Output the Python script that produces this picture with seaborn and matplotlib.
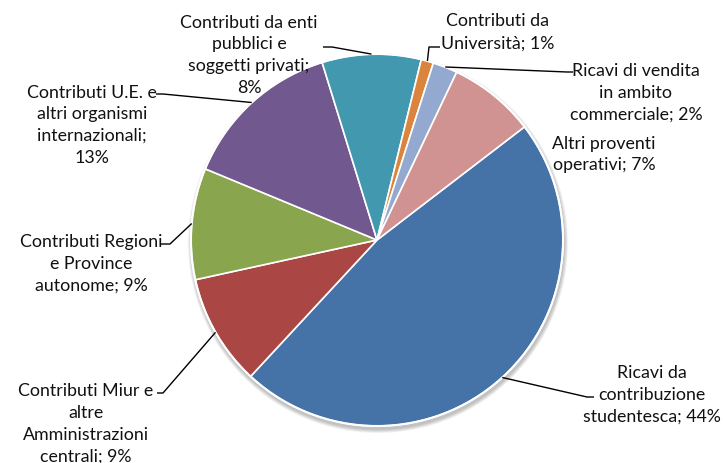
import numpy as np
import matplotlib
matplotlib.use('Agg')
import matplotlib.pyplot as plt
from matplotlib.patches import Circle
import seaborn as sns

sns.set_theme(style="white")
plt.rcParams['font.family'] = ['Lato', 'DejaVu Sans']

# --- Data (clockwise from the large blue slice) ---
names = [
    'Ricavi da\ncontribuzione\nstudentesca',
    'Contributi Miur e\naltre\nAmministrazioni\ncentrali',
    'Contributi Regioni\ne Province\nautonome',
    'Contributi U.E. e\naltri organismi\ninternazionali',
    'Contributi da enti\npubblici e\nsoggetti privati',
    'Contributi da\nUniversità',
    'Ricavi di vendita\nin ambito\ncommerciale',
    'Altri proventi\noperativi',
]
pcts = [44, 9, 9, 13, 8, 1, 2, 7]
colors = ['#4572A7', '#AA4643', '#89A54E', '#71588F',
          '#4198AF', '#DB843D', '#93A9CF', '#D19392']

# --- Layout (pixel coords, y measured from the top) ---
W, H = 724, 464
CX, CY, R = 377, 241, 186
PITCH = 21.8
# text centre x, first line y, separator before the percentage, leader elbow, leader end
layout = [
    dict(x=652, y0=372, sep='; ', elbow=(587, 398), end=(594, 398)),
    dict(x=86, y0=390, sep='; ', elbow=(163, 394), end=(157, 394)),
    dict(x=91, y0=241, sep='; ', elbow=(170, 245), end=(161, 245)),
    dict(x=92, y0=91, sep=';\n', elbow=(163, 95), end=(156, 95)),
    dict(x=249, y0=21, sep=';\n', elbow=(332, 48), end=(323, 48)),
    dict(x=498, y0=20, sep='; ', elbow=(429, 48), end=(440, 48)),
    dict(x=636, y0=70, sep='; ', elbow=(567, 73), end=(573, 73)),
    dict(x=604, y0=142, sep='; ', elbow=None, end=None),
]

fig = plt.figure(figsize=(W / 100, H / 100), dpi=100)
ax = fig.add_axes([0, 0, 1, 1])

# soft drop shadow under the pie
for k in range(1, 6):
    ax.add_patch(Circle((CX + 1, H - CY - 3), R + k * 0.8, color='#000000',
                        alpha=0.05, lw=0, zorder=0))

wedges, _ = ax.pie(pcts, colors=colors, startangle=37.5, counterclock=False,
                   radius=R, center=(CX, H - CY),
                   wedgeprops=dict(edgecolor='white', linewidth=1.2, zorder=1))
ax.add_patch(Circle((CX, H - CY), R, fill=False, ec='white', lw=1.5, zorder=2))

for w, name, pct, lay in zip(wedges, names, pcts, layout):
    label = f"{name}{lay['sep']}{pct}%"
    # draw line by line so every line is centred
    for i, line in enumerate(label.split('\n')):
        ax.text(lay['x'], H - (lay['y0'] + i * PITCH), line, ha='center',
                va='center_baseline', fontsize=12.8, color='#111111')
    if lay['elbow'] is None:
        continue
    mid = np.deg2rad((w.theta1 + w.theta2) / 2)
    px, py = CX + R * np.cos(mid), (H - CY) + R * np.sin(mid)
    ex, ey = lay['elbow']
    nx, ny = lay['end']
    ax.plot([px, ex, nx], [py, H - ey, H - ny], color='black', lw=1.0,
            solid_capstyle='butt', zorder=3)

ax.set_xlim(0, W)
ax.set_ylim(0, H)
ax.set_aspect('equal')
ax.axis('off')

fig.savefig('out.png', dpi=100, facecolor='white')
